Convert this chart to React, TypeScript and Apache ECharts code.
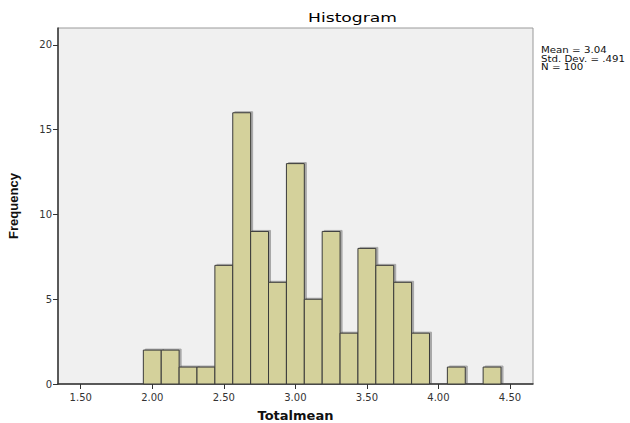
import React, { useEffect, useRef } from "react";
import * as echarts from "echarts";

const binCenters = [2.0, 2.125, 2.25, 2.375, 2.5, 2.625, 2.75, 2.875, 3.0, 3.125, 3.25, 3.375, 3.5, 3.625, 3.75, 3.875, 4.0, 4.125, 4.25, 4.375];
const frequencies = [2, 2, 1, 1, 7, 16, 9, 6, 13, 5, 9, 3, 8, 7, 6, 3, 0, 1, 0, 1];
const binWidth = 0.125;
const xTicks = [1.5, 2.0, 2.5, 3.0, 3.5, 4.0, 4.5];
const yTicks = [0, 5, 10, 15, 20];
const statLines = ["Mean = 3.04", "Std. Dev. = .491", "N = 100"];
const titleText = "Histogram";

const wide = "DejaVu Sans, Verdana, sans-serif";
const narrow = "Liberation Sans, Arial, sans-serif";

export default function App() {
  const ref = useRef<HTMLDivElement>(null);
  useEffect(() => {
    if (!ref.current) return;
    const chart = echarts.init(ref.current, null, { renderer: "svg" });
    const data = binCenters.map((c, i) => [c, frequencies[i]]).filter((d) => d[1] > 0);
    chart.setOption({
      animation: false,
      backgroundColor: "#ffffff",
      textStyle: { fontFamily: wide },
      grid: {
        left: 58,
        right: 97,
        top: 28,
        bottom: 39,
        outerBoundsMode: "none",
        containLabel: false,
        show: true,
        backgroundColor: "#f0f0f0",
        borderColor: "#9a9a9a",
        borderWidth: 1,
      },
      xAxis: {
        type: "value",
        min: 1.341,
        max: 4.661,
        name: "Totalmean",
        nameLocation: "middle",
        nameGap: 25,
        nameTextStyle: { fontSize: 13, fontWeight: "bold", color: "#111", fontFamily: wide },
        axisLine: { show: true, lineStyle: { color: "#333", width: 1.5 } },
        axisTick: { show: true, length: 5, lineStyle: { color: "#333" }, customValues: xTicks },
        axisLabel: {
          fontSize: 10,
          color: "#333",
          margin: 8,
          fontFamily: wide,
          customValues: xTicks,
          formatter: (v: number) => v.toFixed(2),
        },
        splitLine: { show: false },
      },
      yAxis: {
        type: "value",
        min: 0,
        max: 21,
        name: "Frequency",
        nameLocation: "middle",
        nameGap: 38,
        nameTextStyle: { fontSize: 13, fontWeight: "bold", color: "#111", fontFamily: narrow },
        axisLine: { show: true, lineStyle: { color: "#333", width: 1.5 } },
        axisTick: { show: true, length: 5, lineStyle: { color: "#333" }, customValues: yTicks },
        axisLabel: { fontSize: 10, color: "#333", margin: 6, fontFamily: wide, customValues: yTicks },
        splitLine: { show: false },
      },
      series: [
        {
          type: "custom",
          data,
          renderItem: (params: any, api: any) => {
            const c = api.value(0);
            const v = api.value(1);
            const p0 = api.coord([c - binWidth / 2, v]);
            const p1 = api.coord([c + binWidth / 2, 0]);
            return {
              type: "rect",
              shape: { x: p0[0], y: p0[1], width: p1[0] - p0[0], height: p1[1] - p0[1] },
              style: {
                fill: "#d4d19b",
                stroke: "#3a3a3a",
                lineWidth: 1,
                shadowColor: "rgba(0,0,0,0.3)",
                shadowOffsetX: 2,
                shadowOffsetY: -1,
                shadowBlur: 1,
              },
            };
          },
        },
      ],
      graphic: [
        {
          type: "text",
          x: 352.5,
          y: 17.5,
          scaleX: 1.37,
          style: {
            text: titleText,
            fontSize: 12.5,
            fill: "#000",
            fontFamily: wide,
            textAlign: "center",
            textVerticalAlign: "middle",
          },
        },
        ...statLines.map((t, i) => ({
          type: "text",
          x: 541,
          y: 50 + i * 8.5,
          scaleX: 1.28,
          style: {
            text: t,
            fontSize: 8,
            fill: "#111",
            fontFamily: wide,
            textAlign: "left",
            textVerticalAlign: "middle",
          },
        })),
      ],
    });
    return () => chart.dispose();
  }, []);
  return <div ref={ref} style={{ width: 630, height: 423, position: "absolute", left: 0, top: 0 }} />;
}
